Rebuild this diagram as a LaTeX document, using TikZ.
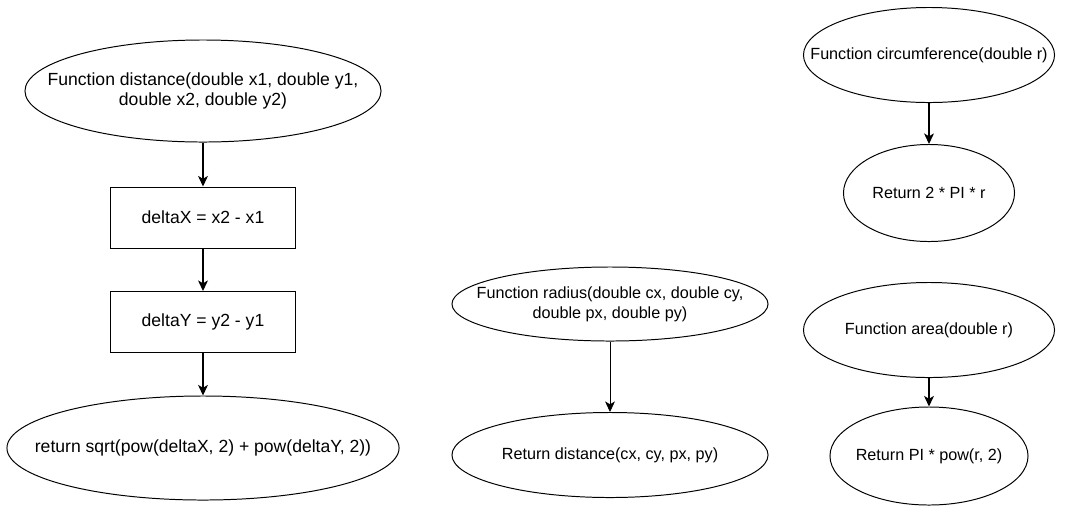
\documentclass[tikz,border=0pt]{standalone}
\usepackage{fontspec}
\setmainfont{Liberation Sans}
\usetikzlibrary{shapes.geometric,arrows.meta}
\begin{document}
\begin{tikzpicture}[x=0.025cm,y=-0.025cm,line width=0.7pt,
    fn/.style={ellipse,draw,inner sep=0pt},
    stepbox/.style={rectangle,draw,minimum width=4.625cm,minimum height=1.525cm,inner sep=0pt},
    big/.style={font=\fontsize{12.5}{14.5}\selectfont,align=center},
    small/.style={font=\fontsize{11.5}{14}\selectfont,align=center},
    back/.style={{Stealth[length=7.5pt,width=7pt,inset=2pt]}-,line width=1pt},
    thinback/.style={{Stealth[length=7.5pt,width=7pt,inset=2pt]}-,line width=0.6pt}]
    \useasboundingbox (0,0) rectangle (1078,516);
    % distance
    \node[fn,minimum width=8.9cm,minimum height=2.55cm,
        label={[big]center:Function distance(double x1, double y1,\\double x2, double y2)}]
        (dist) at (203,91) {};
    \node[stepbox,big] (dx) at (203,217.5) {deltaX = x2 - x1}
        edge [back] (dist)
    ;
    \node[stepbox,big] (dy) at (203,322) {deltaY = y2 - y1}
        edge [back] (dx)
    ;
    \node[fn,minimum width=9.8cm,minimum height=2.6cm,
        label={[big]center:return sqrt(pow(deltaX, 2) + pow(deltaY, 2))}]
        (sqrt) at (203,448) {}
        edge [back] (dy)
    ;
    % radius
    \node[fn,minimum width=7.9cm,minimum height=1.85cm,
        label={[small]center:Function radius(double cx, double cy,\\double px, double py)}]
        (rad) at (610,304) {};
    \node[fn,minimum width=7.9cm,minimum height=2.125cm,
        label={[small]center:Return distance(cx, cy, px, py)}]
        (raddist) at (610,455) {}
        edge [thinback] (rad)
    ;
    % circumference
    \node[fn,minimum width=6.275cm,minimum height=2.375cm,
        label={[small]center:Function circumference(double r)}]
        (circ) at (929,55) {};
    \node[fn,minimum width=4.275cm,minimum height=2.425cm,
        label={[small]center:Return 2 * PI * r}]
        (circret) at (929,193) {}
        edge [back] (circ)
    ;
    % area
    \node[fn,minimum width=6.275cm,minimum height=2.375cm,
        label={[small]center:Function area(double r)}]
        (area) at (929,330) {};
    \node[fn,minimum width=4.95cm,minimum height=2.45cm,
        label={[small]center:Return PI * pow(r, 2)}]
        (arearet) at (929,456) {}
        edge [back] (area)
    ;
\end{tikzpicture}
\end{document}
